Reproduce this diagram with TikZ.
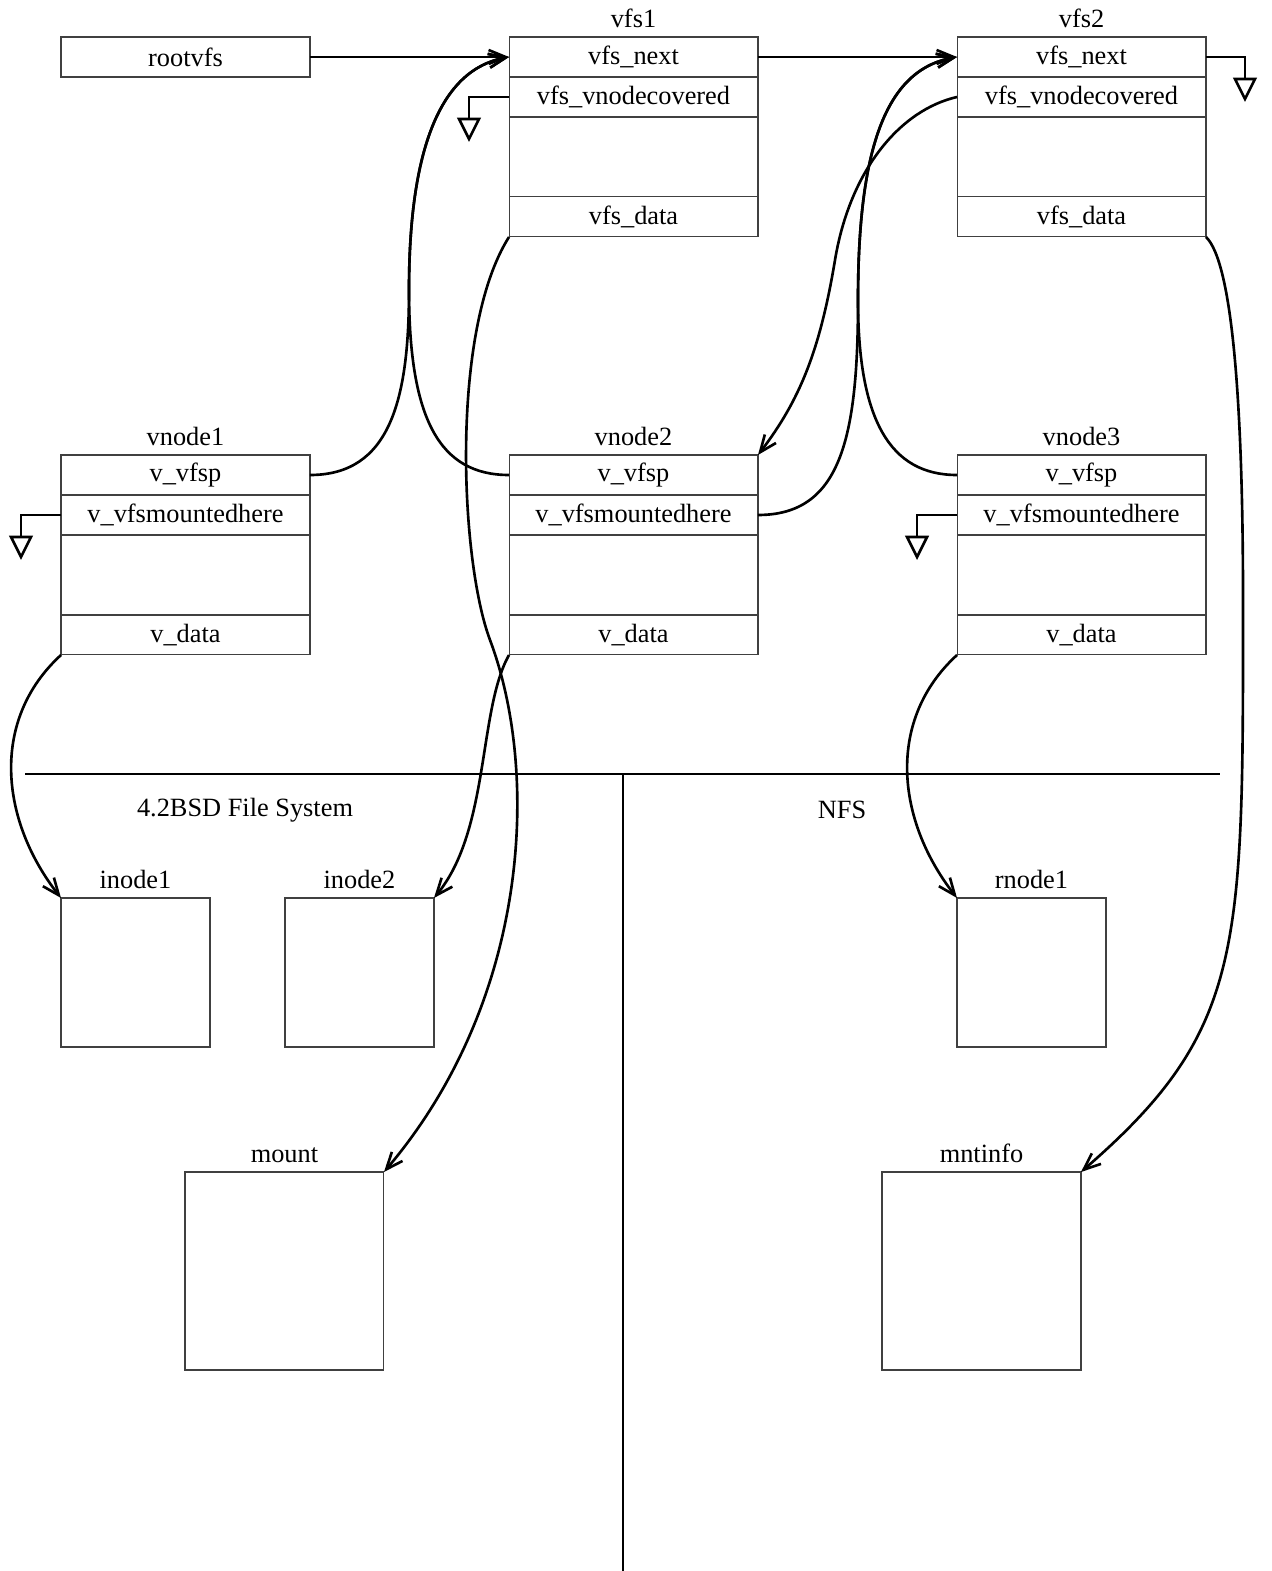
\documentclass[tikz,border=0pt]{standalone}
\usepackage{fontspec}
\setmainfont{Liberation Serif}
\usetikzlibrary{positioning,arrows.meta}

\tikzset{
  field/.style={draw=black!75, line width=0.6pt, minimum width=4.98cm, minimum height=0.8cm, inner sep=0pt, outer sep=0pt},
  hole/.style={field, minimum height=1.6cm},
  blob/.style={field, minimum width=2.98cm, minimum height=2.98cm},
  bigblob/.style={field, minimum width=3.98cm, minimum height=3.96cm},
  title/.style={inner sep=0pt},
  ptr/.style={line width=1.5pt, -{Straight Barb[length=3.4mm, width=2.8mm]}},
  wire/.style={line width=1.5pt},
  divider/.style={line width=0.6pt},
}
\newcommand{\groundsym}[1]{\draw[wire, fill=white, line join=miter] (#1) ++(-10,0) -- ++(20,0) -- ++(-10,20) -- cycle;}

\begin{document}
\begin{tikzpicture}[x=0.02cm, y=-0.02cm, font=\fontsize{15}{18}\selectfont]
    \useasboundingbox (0,0) rectangle (1271,1571);
    % vfs list
    \node[field, anchor=north] (rootvfs) at (185.5,37) {rootvfs};
    \foreach \i/\x in {1/633.5, 2/1081.5} {
        \node[field, anchor=north] (vfs\i-next) at (\x,37) {vfs\_next};
        \node[field, below=0pt of vfs\i-next] (vfs\i-cov) {vfs\_vnodecovered};
        \node[hole, below=0pt of vfs\i-cov] (vfs\i-gap) {};
        \node[field, below=0pt of vfs\i-gap] (vfs\i-data) {vfs\_data};
        \node[title, above=5pt of vfs\i-next] (vfs\i) {vfs\i};
    }
    % vnodes
    \foreach \i/\x in {1/185.5, 2/633.5, 3/1081.5} {
        \node[field, anchor=north] (vn\i-vfsp) at (\x,455) {v\_vfsp};
        \node[field, below=0pt of vn\i-vfsp] (vn\i-mnt) {v\_vfsmountedhere};
        \node[hole, below=0pt of vn\i-mnt] (vn\i-gap) {};
        \node[field, below=0pt of vn\i-gap] (vn\i-data) {v\_data};
        \node[title, above=5pt of vn\i-vfsp] (vnode\i) {vnode\i};
    }
    % file system dependent parts
    \draw[divider] (25,774) -- (1220,774);
    \draw[divider] (623,774) -- (623,1571);
    \node (bsd) at (245,810) {4.2BSD File System};
    \node (nfs) at (842,810) {NFS};
    \node[blob, anchor=north west] (inode1) at (61,898) {};
    \node[title, above=5pt of inode1] (inode1lbl) {inode1};
    \node[blob, anchor=north west] (inode2) at (285,898) {};
    \node[title, above=5pt of inode2] (inode2lbl) {inode2};
    \node[blob, anchor=north west] (rnode1) at (957,898) {};
    \node[title, above=5pt of rnode1] (rnode1lbl) {rnode1};
    \node[bigblob, anchor=north west] (mount) at (185,1172) {};
    \node[title, above=5pt of mount] (mountlbl) {mount};
    \node[bigblob, anchor=north west] (mntinfo) at (882,1172) {};
    \node[title, above=5pt of mntinfo] (mntinfolbl) {mntinfo};
    % null pointers
    \draw[wire] (vfs1-cov.west) -- ++(-40,0) -- ++(0,22) coordinate (gnd1);
    \groundsym{gnd1}
    \draw[wire] (vfs2-next.east) -- ++(39,0) -- ++(0,22) coordinate (gnd2);
    \groundsym{gnd2}
    \draw[wire] (vn1-mnt.west) -- ++(-40,0) -- ++(0,22) coordinate (gnd3);
    \groundsym{gnd3}
    \draw[wire] (vn3-mnt.west) -- ++(-40,0) -- ++(0,22) coordinate (gnd4);
    \groundsym{gnd4}
    % pointers
    \draw[ptr] (rootvfs.east) -- (vfs1-next.west);
    \draw[ptr] (vfs1-next.east) -- (vfs2-next.west);
    \draw[ptr] (vn1-vfsp.east) .. controls (390,475) and (409,400) .. (409,290)
        .. controls (409,150) and (440,70) .. (vfs1-next.west);
    \draw[ptr] (vn2-vfsp.west) .. controls (440,475) and (409,420) .. (409,290)
        .. controls (409,150) and (440,70) .. (vfs1-next.west);
    \draw[ptr] (vn2-mnt.east) .. controls (840,515) and (858,440) .. (858,300)
        .. controls (858,150) and (885,70) .. (vfs2-next.west);
    \draw[ptr] (vn3-vfsp.west) .. controls (890,475) and (858,420) .. (858,300)
        .. controls (858,150) and (885,70) .. (vfs2-next.west);
    \draw[ptr] (vfs2-cov.west) .. controls (900,110) and (850,170) .. (835,260)
        .. controls (820,350) and (800,400) .. (vn2-vfsp.north east);
    \draw[ptr] (vfs1-data.south west) .. controls (450,330) and (460,560) .. (490,640)
        .. controls (540,773) and (530,1000) .. (mount.north east);
    \draw[ptr] (vn2-data.south west) .. controls (478,710) and (490,830) .. (inode2.north east);
    \draw[ptr] (vn1-data.south west) .. controls (-10,720) and (0,820) .. (inode1.north west);
    \draw[ptr] (vn3-data.south west) .. controls (886,720) and (896,820) .. (rnode1.north west);
    \draw[ptr] (vfs2-data.south east) .. controls (1232,262) and (1243,400) .. (1243,600)
        .. controls (1243,950) and (1245,1030) .. (mntinfo.north east);
\end{tikzpicture}
\end{document}
